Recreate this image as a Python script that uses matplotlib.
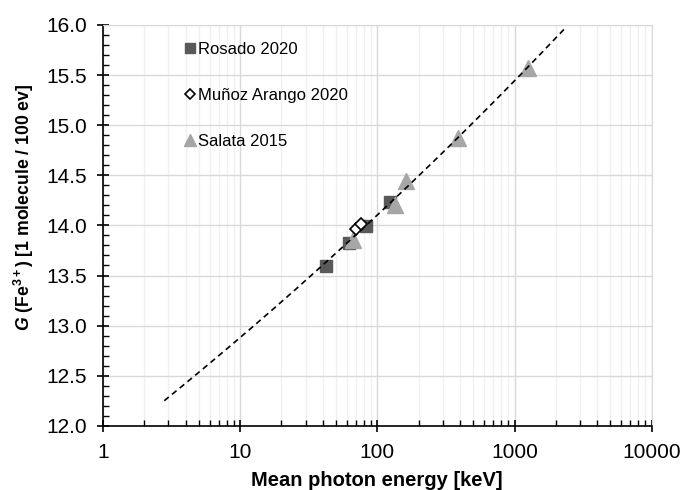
import numpy as np
import matplotlib
matplotlib.use("Agg")
import matplotlib.pyplot as plt
from matplotlib.ticker import LogLocator, MultipleLocator, NullFormatter

plt.rcParams['font.family'] = ['Liberation Sans', 'DejaVu Sans']
plt.rcParams['mathtext.fontset'] = 'custom'
plt.rcParams['mathtext.rm'] = 'Liberation Sans:bold'
plt.rcParams['mathtext.bf'] = 'Liberation Sans:bold'
plt.rcParams['mathtext.it'] = 'Liberation Sans:italic:bold'

# mean photon energy [keV] and G(Fe3+) values
rosado_E = [42, 62, 83, 123]
rosado_G = [13.59, 13.82, 13.99, 14.23]

munoz_E = [70, 76]
munoz_G = [13.96, 14.01]

salata_E = [67, 134, 161, 388, 1259]
salata_G = [13.85, 14.20, 14.44, 14.87, 15.57]

# power trendline y = a * x^b fitted to all points
all_E = np.array(rosado_E + munoz_E + salata_E, dtype=float)
all_G = np.array(rosado_G + munoz_G + salata_G, dtype=float)
b, log_a = np.polyfit(np.log(all_E), np.log(all_G), 1)
trend_x = np.logspace(np.log10(2.8), np.log10(2300), 200)
trend_y = np.exp(log_a) * trend_x ** b

fig, ax = plt.subplots(figsize=(6.86, 4.90), dpi=100)
fig.subplots_adjust(left=0.150, right=0.950, top=0.949, bottom=0.131)

ax.set_xscale('log')
ax.set_xlim(1, 10000)
ax.set_ylim(12.0, 16.0)

ax.plot(trend_x, trend_y, color='black', lw=1.2, ls=(0, (3.5, 2.5)), zorder=4)

ax.plot(rosado_E, rosado_G, ls='none', marker='s', ms=8.5, color='#595959',
        label='Rosado 2020', zorder=3)
ax.plot(salata_E, salata_G, ls='none', marker='^', ms=11, color='#a6a6a6',
        label='Salata 2015', zorder=3)
ax.plot(munoz_E, munoz_G, ls='none', marker='D', ms=6, mfc='white', mec='black',
        mew=1.2, label='Muñoz Arango 2020', zorder=5)

# ticks and grid
ax.set_xticks([1, 10, 100, 1000, 10000])
ax.set_xticklabels(['1', '10', '100', '1000', '10000'])
ax.xaxis.set_minor_locator(LogLocator(base=10, subs=np.arange(2, 10), numticks=10))
ax.xaxis.set_minor_formatter(NullFormatter())
ax.yaxis.set_major_locator(MultipleLocator(0.5))
ax.yaxis.set_minor_locator(MultipleLocator(0.1))
ax.yaxis.set_major_formatter(plt.FuncFormatter(lambda v, p: f'{v:.1f}'))

ax.grid(which='major', axis='both', color='#d9d9d9', lw=1.0, zorder=0)
ax.grid(which='minor', axis='x', color='#f0f0f0', lw=1.0, zorder=0)
ax.set_axisbelow(True)

for s in ['top', 'right']:
    ax.spines[s].set_color('#d9d9d9')
for s in ['left', 'bottom']:
    ax.spines[s].set_color('black')
    ax.spines[s].set_linewidth(1.2)

ax.tick_params(which='major', direction='inout', length=9, width=1.2,
               labelsize=15, colors='black')
ax.tick_params(which='minor', direction='in', length=4.5, width=1.0)
ax.tick_params(axis='x', which='major', pad=8)
ax.tick_params(axis='y', which='major', pad=7)

ax.set_xlabel('Mean photon energy [keV]', fontsize=14.5, fontweight='bold', labelpad=6)
ax.set_ylabel(r'$G$ (Fe$^{3+}$) [1 molecule / 100 ev]', fontsize=12.7,
              fontweight='bold')
ax.yaxis.set_label_coords(-0.121, 0.546)

handles, labels = ax.get_legend_handles_labels()
order = [0, 2, 1]
leg = ax.legend([handles[i] for i in order], [labels[i] for i in order],
                loc='upper left', bbox_to_anchor=(0.124, 0.995), frameon=False,
                fontsize=12, labelspacing=1.85, handlelength=0.5,
                handletextpad=0.25, markerscale=0.85)

fig.savefig('out.png', dpi=100)
